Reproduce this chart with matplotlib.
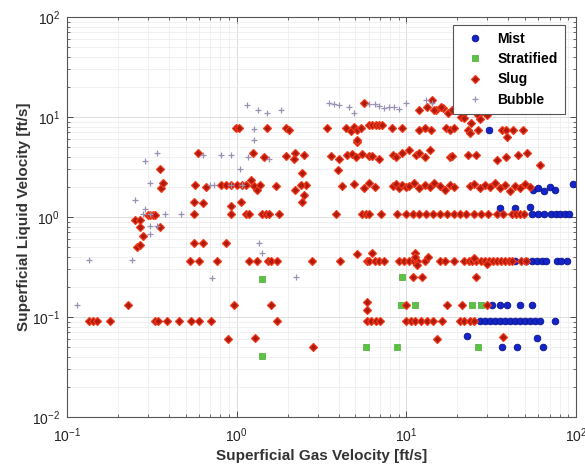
"""
Flow regime map: superficial liquid vs gas velocity
"""

import matplotlib
matplotlib.use("Agg")
import matplotlib.pyplot as plt
from matplotlib.lines import Line2D

plt.rcParams['font.family'] = ['Liberation Sans', 'DejaVu Sans']
plt.rcParams['mathtext.default'] = 'regular'

# ---- data [ft/s] ----
mist_x = [30.5,
          56, 60, 65, 70, 75, 96,
          35.5, 43.6, 53.4, 55, 60, 65, 71, 76, 81, 86, 91,
          43.6, 51, 55, 59, 63, 67, 77, 82, 88,
          32, 35.5, 39.4, 46.6, 54.9,
          27, 29, 31, 33.2, 35.5, 38, 40.7, 43.6, 46.6, 49.9, 53.4, 57.2, 61.2, 75,
          22.9, 58.7, 36.4, 44.7, 63.5]
mist_y = [7.4,
          1.88, 1.94, 1.83, 1.99, 1.88, 2.15,
          1.23, 1.23, 1.25, 1.07, 1.07, 1.07, 1.07, 1.07, 1.07, 1.07, 1.07,
          0.363, 0.363, 0.363, 0.363, 0.363, 0.363, 0.363, 0.363, 0.363,
          0.132, 0.132, 0.132, 0.132, 0.132,
          0.091, 0.091, 0.091, 0.091, 0.091, 0.091, 0.091, 0.091, 0.091, 0.091, 0.091, 0.091, 0.091, 0.091,
          0.064, 0.061, 0.050, 0.050, 0.050]

strat_x = [1.41, 1.41, 5.8, 8.85, 26.3, 9.4, 9.3, 11.2, 24.5, 27.5]
strat_y = [0.24, 0.041, 0.050, 0.050, 0.050, 0.25, 0.132, 0.132, 0.132, 0.132]

slug_x = [
    # ~0.09 row
    0.135, 0.143, 0.15, 0.18, 0.33, 0.345, 0.39, 0.46, 0.535, 0.60, 0.71, 1.73,
    5.9, 6.2, 6.6, 7.0, 10.0, 10.6, 11.3, 12.2, 13.2, 14.3, 16.2, 20.6, 22.0, 23.6, 25.2,
    # ~0.13 row and low scattered
    0.23, 0.97, 1.59, 5.9, 9.9, 17.3, 21.2, 29.7, 5.9,
    0.885, 1.29, 15.1, 37.0, 2.82,
    10.9, 12.3, 25.9,
    # ~0.36 row
    0.53, 0.60, 0.77, 1.19, 1.31, 1.52, 1.60, 1.73, 2.78, 4.07, 5.87, 6.0, 6.56, 6.92,
    7.41, 9.09, 9.73, 10.4, 11.1, 11.6, 12.8, 15.7, 16.8, 19.2, 22.0, 23.3, 24.5, 25.9,
    27.4, 29.0, 30.6, 32.3, 34.1, 36.0, 38.0, 40.2, 41.8, 47.5, 50.5,
    5.1, 6.3, 11.3, 11.3, 11.5, 13.5, 25.0, 30.0,
    # low-x cluster
    0.56, 0.63, 0.86,
    0.28, 0.26, 0.27, 0.27, 0.355, 0.25, 0.27, 0.30, 0.31, 0.32, 0.33,
    # ~1.07 row
    0.557, 0.92, 1.13, 1.18, 1.41, 1.49, 1.55, 1.77, 3.85, 5.5, 5.8, 6.0, 7.1, 8.85,
    10.0, 10.9, 11.9, 13.1, 14.3, 15.7, 17.4, 19.2, 20.6, 22.6, 25.2, 27.7, 30.2, 34.2,
    37.0, 42.0, 44.5, 47.0, 49.5,
    0.557, 0.63, 1.06, 0.92,
    2.42, 2.55, 2.49, 2.42,
    # ~2 row
    0.36, 0.37, 0.355, 0.57, 0.66, 0.81, 0.87, 0.93, 1.0, 1.07, 1.13, 1.22, 1.26, 1.31,
    1.38, 1.70, 2.2, 2.4, 4.2, 4.9, 5.6, 6.0, 6.5, 8.3, 8.7, 9.1, 9.4, 10.0,
    10.4, 11.1, 11.9, 12.8, 13.7, 14.6, 15.7, 16.8, 18.0, 19.2, 23.6, 25.2, 27.0, 29.0,
    31.0, 33.2, 35.5, 38.0, 40.7, 43.6, 46.6, 49.9, 53.4,
    # ~4 row
    0.59, 1.24, 1.45, 1.95, 2.2, 2.5, 2.17, 3.6, 4.0, 4.45, 4.8, 5.05, 5.45, 6.0, 6.3,
    6.9, 8.3, 8.7, 9.4, 10.4, 11.4, 11.9, 12.8, 13.7, 18.0, 18.6, 23.0, 25.9, 34.2,
    38.9, 45.6, 51.4, 61.2, 3.95, 5.1,
    # ~7.7 row
    0.99, 1.03, 1.50, 1.95, 2.03, 3.4, 4.4, 4.7, 4.9, 5.1, 5.4, 6.0, 6.3, 6.6, 6.9,
    7.2, 8.2, 9.4, 11.9, 12.8, 14.0, 17.2, 18.0, 19.2, 23.0, 23.6, 26.3, 36.5, 38.9,
    39.4, 42.4, 48.6, 5.1,
    # ~12 row
    5.6, 11.9, 13.3, 14.2, 14.9, 16.4, 17.7, 18.7, 21.6, 22.6, 26.3, 30.0, 21.0,
    22.0, 24.2, 27.0, 14.6, 16.0,
]
slug_y = [
    0.091, 0.091, 0.091, 0.091, 0.091, 0.091, 0.091, 0.091, 0.091, 0.091, 0.091, 0.091,
    0.091, 0.091, 0.091, 0.091, 0.091, 0.091, 0.091, 0.091, 0.091, 0.091, 0.091, 0.091, 0.091, 0.091, 0.091,
    0.132, 0.132, 0.132, 0.14, 0.132, 0.132, 0.132, 0.132, 0.117,
    0.060, 0.061, 0.060, 0.063, 0.050,
    0.25, 0.25, 0.25,
    0.363, 0.363, 0.363, 0.363, 0.363, 0.363, 0.363, 0.363, 0.363, 0.363, 0.363, 0.363, 0.363, 0.363,
    0.363, 0.363, 0.363, 0.363, 0.363, 0.363, 0.363, 0.363, 0.363, 0.363, 0.363, 0.363, 0.363, 0.363,
    0.363, 0.363, 0.363, 0.363, 0.363, 0.363, 0.363, 0.363, 0.363, 0.363, 0.363,
    0.43, 0.44, 0.44, 0.395, 0.33, 0.395, 0.385, 0.34,
    0.555, 0.555, 0.555,
    0.65, 0.50, 0.52, 0.80, 0.80, 0.94, 0.94, 1.05, 1.05, 1.05, 1.05,
    1.07, 1.07, 1.07, 1.07, 1.07, 1.07, 1.07, 1.07, 1.07, 1.07, 1.07, 1.07, 1.07, 1.07,
    1.07, 1.07, 1.07, 1.07, 1.07, 1.07, 1.07, 1.07, 1.07, 1.07, 1.07, 1.07, 1.07, 1.07,
    1.07, 1.07, 1.07, 1.07, 1.07,
    1.41, 1.38, 1.41, 1.30,
    2.76, 2.1, 1.66, 1.41,
    1.94, 2.19, 3.0, 2.1, 2.0, 2.1, 2.1, 2.1, 2.1, 2.1, 2.1, 2.35, 2.04, 1.88,
    2.1, 2.04, 1.88, 2.1, 2.04, 2.15, 1.94, 2.2, 1.99, 2.04, 2.15, 1.94, 2.1, 1.99,
    2.04, 2.2, 1.94, 2.1, 1.99, 2.2, 2.04, 1.88, 2.1, 1.99, 2.04, 2.15, 1.94, 2.1,
    1.99, 2.2, 1.94, 2.1, 1.83, 2.04, 1.94, 2.15, 1.99,
    4.36, 4.36, 4.0, 4.1, 4.36, 4.15, 3.84, 4.05, 3.84, 4.15, 4.26, 3.94, 4.26, 4.05, 4.05,
    3.84, 4.15, 3.94, 4.36, 4.68, 4.15, 4.36, 3.94, 4.68, 3.94, 4.05, 4.15, 4.15, 3.73,
    3.94, 4.15, 4.36, 3.31, 2.96, 5.62,
    7.7, 7.7, 7.7, 7.8, 7.4, 7.7, 7.7, 7.3, 8.0, 7.4, 7.7, 8.3, 8.3, 8.4, 8.3,
    8.3, 7.7, 7.7, 7.4, 7.7, 7.4, 7.7, 7.4, 7.7, 7.4, 6.98, 7.4, 7.4, 7.4,
    6.36, 7.4, 7.4, 5.83,
    13.7, 11.7, 12.5, 14.7, 11.7, 12.3, 11.0, 11.7, 11.0, 11.5, 10.5, 10.5, 10.0,
    9.8, 8.75, 9.5, 11.8, 12.5,
]

bubble_x = [0.114, 0.135, 0.24, 0.72, 1.35, 1.41, 2.23,
            0.34, 0.29, 0.31, 0.25, 0.28, 0.31, 0.38, 0.47, 0.31, 0.34, 0.31, 0.29,
            1.15, 1.33, 1.51, 1.83, 1.26, 1.26, 0.63, 0.81, 0.93, 1.16, 1.05,
            0.70, 0.74, 0.93, 1.07, 1.55,
            3.5, 3.75, 4.0, 4.6, 4.9, 6.0, 6.5, 6.9, 7.4, 7.9, 8.5, 9.1, 10.0, 13.1, 14.2]
bubble_y = [0.132, 0.375, 0.375, 0.245, 0.545, 0.44, 0.25,
            4.36, 3.63, 2.19, 1.48, 1.08, 1.08, 1.08, 1.08, 0.81, 0.81, 0.67, 1.19,
            13.3, 11.7, 11.0, 11.7, 7.5, 5.94, 4.15, 4.15, 4.15, 3.94, 3.0,
            2.1, 2.1, 2.1, 2.1, 3.84,
            13.7, 13.5, 13.1, 12.5, 11.0, 13.5, 13.5, 13.0, 12.3, 12.5, 12.7, 12.0, 13.7, 14.7, 13.7]

labels = ['Mist', 'Stratified', 'Slug', 'Bubble']

# marker styles
mist_kw = dict(marker='o', ms=4.8, mfc='#1424c8', mec='#0a148c', mew=0.6)
strat_kw = dict(marker='s', ms=4.3, mfc='#5cc244', mec='#49a836', mew=0.5)
slug_kw = dict(marker='D', ms=4.3, mfc='#b01a0e', mec='#f03a1a', mew=0.9)
bubble_kw = dict(marker='+', ms=5, mec='#9a90b4', mew=0.9)

# ---- plot ----
fig = plt.figure(figsize=(5.85, 4.74), dpi=100)
ax = fig.add_axes([67/585, 57/474, 509/585, 400/474])

ax.plot(mist_x, mist_y, ls='none', **mist_kw)
ax.plot(strat_x, strat_y, ls='none', **strat_kw)
ax.plot(slug_x, slug_y, ls='none', **slug_kw)
ax.plot(bubble_x, bubble_y, ls='none', **bubble_kw)

ax.set_xscale('log')
ax.set_yscale('log')
ax.set_xlim(0.1, 100)
ax.set_ylim(0.01, 100)

ax.grid(True, which='major', color='#d8d8d8', lw=0.6)
ax.grid(True, which='minor', color='#ececec', lw=0.5)
ax.set_axisbelow(True)
ax.tick_params(which='both', direction='in', top=True, right=True, colors='#333333',
               labelsize=10, labelcolor='#222222')
ax.tick_params(which='major', length=4, width=0.6)
ax.tick_params(which='minor', length=2, width=0.5)
ax.tick_params(axis='x', which='major', pad=7)
ax.tick_params(axis='y', which='major', pad=5)
for s in ax.spines.values():
    s.set_color('#555555')
    s.set_linewidth(0.8)

ax.set_xlabel('Superficial Gas Velocity [ft/s]', fontsize=11, fontweight='bold', color='#333333', labelpad=3)
ax.set_ylabel('Superficial Liquid Velocity [ft/s]', fontsize=11, fontweight='bold', color='#333333', labelpad=1)

# legend
handles = [Line2D([], [], ls='none', **kw) for kw in (mist_kw, strat_kw, slug_kw, bubble_kw)]
leg = ax.legend(handles, labels, loc='upper right', bbox_to_anchor=(0.978, 0.98),
                borderaxespad=0, frameon=True, fancybox=False, edgecolor='#555555',
                framealpha=1, prop={'weight': 'bold', 'size': 10}, handletextpad=0.5,
                borderpad=0.5, labelspacing=0.45, handlelength=2.2)
leg.get_frame().set_linewidth(0.8)

fig.savefig('out.png', dpi=100)
